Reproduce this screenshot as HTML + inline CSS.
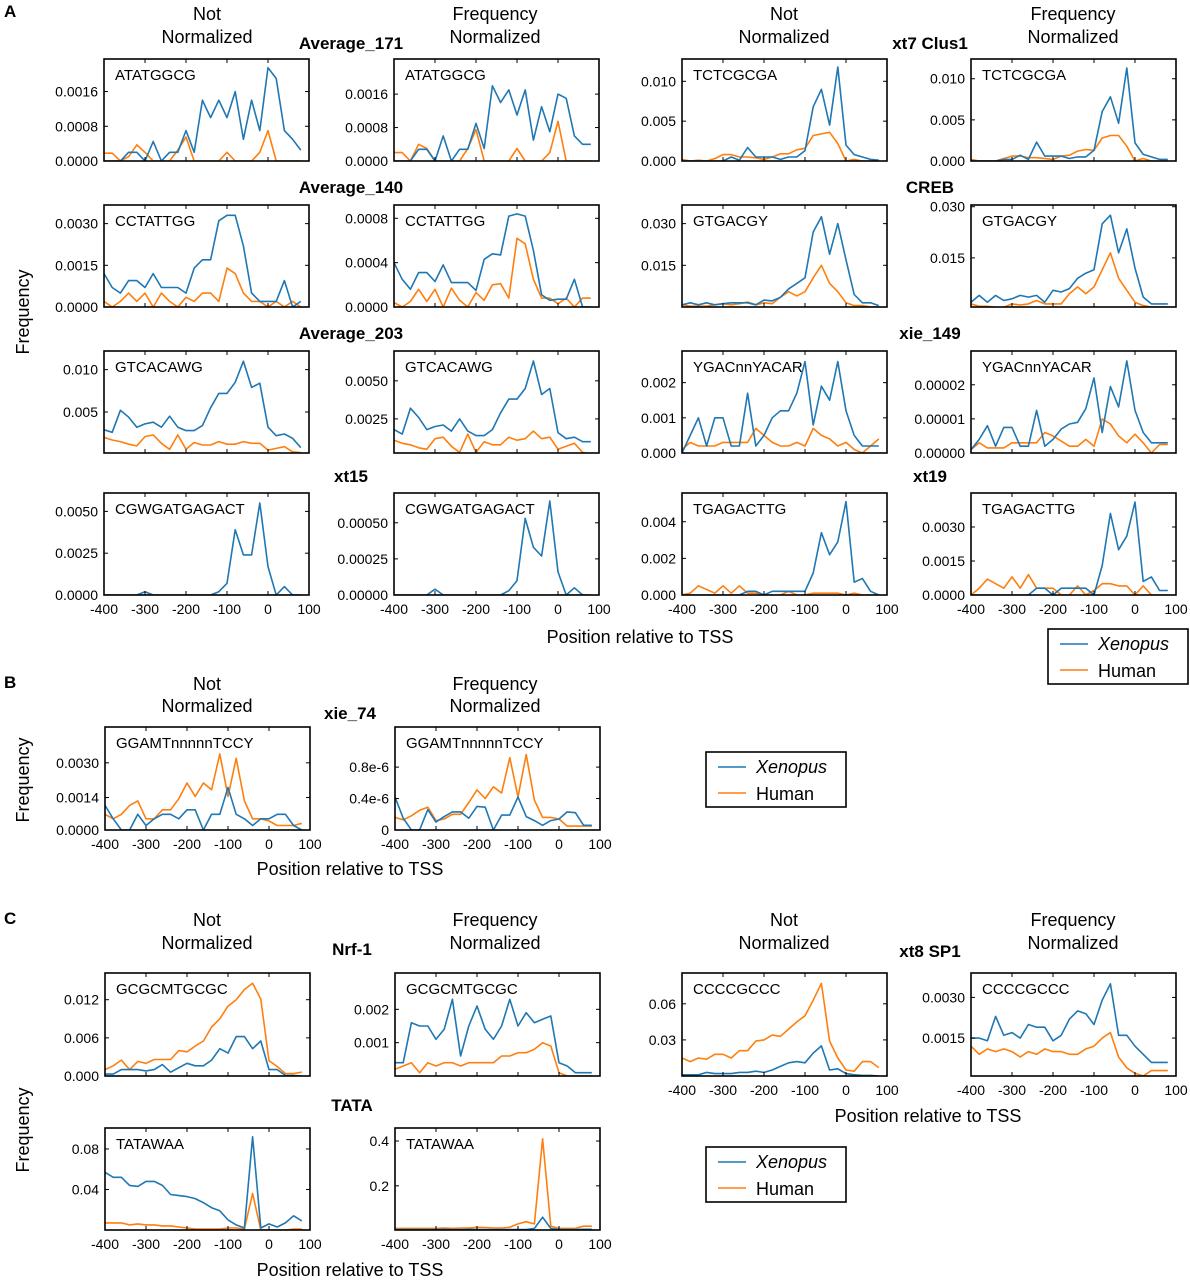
<!DOCTYPE html>
<html><head><meta charset="utf-8"><style>
body{margin:0;background:#fff;}
svg{display:block;font-family:"Liberation Sans",sans-serif;}
</style></head><body>
<svg id="fig" width="1190" height="1280" viewBox="0 0 1190 1280">
<g id="static" font-size="18" fill="#000">
<text x="4" y="17" font-weight="bold" font-size="17">A</text>
<text x="4" y="688" font-weight="bold" font-size="17">B</text>
<text x="4" y="924" font-weight="bold" font-size="17">C</text>
</g>
</svg>
<script>
const positions = [-400,-380,-360,-340,-320,-300,-280,-260,-240,-220,-200,-180,-160,-140,-120,-100,-80,-60,-40,-20,0,20,40,60,80];
const xTicks = [-400,-300,-200,-100,0,100];
const xTickLabels = ["-400","-300","-200","-100","0","100"];

const a171nnBlue = [0,0,0,0.0002,0.0002,0,0.00045,0,0.0002,0.0002,0.0007,0.0002,0.0014,0.001,0.0014,0.001,0.0016,0.0005,0.0014,0.0007,0.00215,0.0019,0.0007,0.0005,0.00025];
const a171nnHuman = [0.00018,0.00018,0,0.0001,0.00037,0.0002,0,0,0,0.00025,0.00055,0,0,0,0,0.0002,0,0,0,0.0002,0.0007,0,0,0,0];
const a171fnBlue = [0,0,0,0.00028,0.00028,0,0.0006,0,0.00028,0.00028,0.0009,0.0003,0.0018,0.0014,0.0017,0.0011,0.0017,0.0005,0.0013,0.0007,0.0016,0.0015,0.0006,0.0004,0.0004];
const a171fnHuman = [0.0002,0.0002,0,0.0004,0.0003,0,0,0,0,0.0003,0.00075,0,0,0,0,0.0003,0,0,0,0.0002,0.00095,0,0,0,0];
const clusnnBlue = [0,0,0,0,0,0,0.0005,0.0001,0.0017,0.0005,0.0005,0.0005,0.0002,0.0005,0.0005,0.0013,0.0068,0.009,0.0045,0.0118,0.002,0.0008,0.0005,0.0002,0.0001];
const clusnnHuman = [0.0002,0,0.0001,0,0.0003,0.0008,0.0008,0.0005,0.0005,0.0004,0.0002,0.0005,0.0009,0.0009,0.0014,0.0016,0.0032,0.0034,0.0036,0.0022,0,0.0002,0,0,0];
const clusfnBlue = [0,0,0,0,0.0002,0.0002,0.0007,0.0002,0.0023,0.0006,0.0006,0.0006,0.0003,0.0005,0.0005,0.0013,0.006,0.0078,0.0046,0.0113,0.0022,0.0008,0.0005,0.0002,0.0002];
const clusfnHuman = [0.0002,0,0,0,0.0003,0.0006,0.0006,0.0004,0.0004,0.0003,0.0002,0.0006,0.0007,0.0012,0.0014,0.0013,0.0028,0.0031,0.0031,0.0018,0,0.0003,0,0,0];
const a140nnBlue = [0.0012,0.0007,0.0005,0.00095,0.00095,0.0007,0.0012,0.0007,0.0007,0.0007,0.0005,0.0014,0.0017,0.0017,0.0031,0.0033,0.0033,0.0022,0.0005,0.0002,0.0002,0.0002,0.00095,0,0.0002];
const a140nnHuman = [0.0002,0,0.0002,0.0005,0.0002,0.0005,0,0.0005,0.0002,0,0.00035,0.0002,0.0005,0.0005,0.0002,0.0014,0.0012,0.0005,0.0002,0.0002,0,0.0002,0,0.0002,0];
const a140fnBlue = [0.0004,0.00025,0.00016,0.00031,0.00031,0.00023,0.00038,0.00022,0.00022,0.00022,0.00015,0.00043,0.00048,0.00047,0.00082,0.00084,0.00082,0.00051,0.00011,0.00006,0.00007,0.00007,0.00025,0,0];
const a140fnHuman = [0.00004,0,0.00005,0.00016,0.00005,0.00016,0,0.00017,0.00006,0,0.00013,0.00006,0.0002,0.00021,0.00008,0.00062,0.00057,0.00025,0.00008,0.00008,0.00003,0.00008,0,0.00008,0.00008];
const crebnnBlue = [0.0008,0.0015,0.0008,0.0015,0.0008,0.0012,0.0015,0.0015,0.0015,0.0008,0.0025,0.0022,0.0035,0.0065,0.0085,0.0105,0.027,0.0325,0.019,0.03,0.017,0.0045,0.0015,0.0015,0.0005];
const crebnnHuman = [0.0008,0.0003,0.0003,0.0003,0.0008,0.0012,0.0008,0.0012,0.0018,0.0008,0.0015,0.0012,0.0035,0.0055,0.004,0.0055,0.0105,0.015,0.0085,0.0055,0.0015,0.0005,0.0005,0,0];
const crebfnBlue = [0.002,0.004,0.002,0.004,0.0025,0.003,0.004,0.0035,0.004,0.002,0.0055,0.005,0.006,0.009,0.0105,0.0115,0.025,0.0275,0.0165,0.0235,0.012,0.0035,0.0015,0.0015,0.0015];
const crebfnHuman = [0.0015,0.0008,0.0008,0.0005,0.0005,0.0015,0.0012,0.0015,0.0025,0.0015,0.0015,0.0015,0.0045,0.0065,0.0045,0.0065,0.0115,0.0165,0.009,0.0055,0.002,0.001,0.0006,0.0006,0.0006];
const a203nnBlue = [0.0029,0.0026,0.0052,0.0044,0.0032,0.0036,0.0038,0.0032,0.0045,0.0032,0.0028,0.0028,0.0034,0.0055,0.0072,0.0072,0.0085,0.011,0.0079,0.0084,0.0032,0.0022,0.0024,0.0019,0.0008];
const a203nnHuman = [0.002,0.0017,0.0015,0.0012,0.001,0.0021,0.0023,0.0013,0.0006,0.0023,0.0006,0.0014,0.0011,0.0011,0.0015,0.0012,0.0012,0.0015,0.0013,0.0013,0.0005,0.0007,0.0009,0.0003,0.0002];
const a203fnBlue = [0.0018,0.0015,0.0032,0.0026,0.0018,0.002,0.0021,0.0017,0.0025,0.0017,0.0014,0.0014,0.0018,0.0029,0.0038,0.0038,0.0045,0.0063,0.0041,0.0045,0.0016,0.0012,0.0013,0.001,0.001];
const a203fnHuman = [0.0011,0.0009,0.0008,0.0006,0.0005,0.0012,0.0013,0.0007,0.0003,0.0015,0.0003,0.001,0.0008,0.0008,0.0013,0.0011,0.0012,0.0017,0.0012,0.0013,0.0005,0.0007,0.0009,0.0003,0.0002];
const x149nnBlue = [0,0.0005,0.001,0.0002,0.001,0.001,0.0002,0.0002,0.0017,0.0002,0.0005,0.001,0.0012,0.0012,0.0017,0.0026,0.0008,0.0019,0.0015,0.0026,0.0012,0.0005,0.0002,0.0002,0.0002];
const x149nnHuman = [0.0001,0.0003,0.0002,0.0002,0.0002,0.0003,0.0003,0.0003,0.0003,0.0007,0.0005,0.0003,0.0002,0.0002,0.0003,0.0002,0.0007,0.0005,0.0004,0.0002,0.0003,0.0001,0,0.0002,0.0004];
const x149fnBlue = [0.1e-5,0.4e-5,0.8e-5,0.2e-5,0.75e-5,0.75e-5,0.2e-5,0.2e-5,1.25e-5,0.2e-5,0.4e-5,0.7e-5,0.85e-5,0.9e-5,1.3e-5,2.2e-5,0.6e-5,1.95e-5,1.35e-5,2.7e-5,1.25e-5,0.6e-5,0.3e-5,0.3e-5,0.3e-5];
const x149fnHuman = [0.1e-5,0.3e-5,0.15e-5,0.15e-5,0.15e-5,0.3e-5,0.3e-5,0.3e-5,0.3e-5,0.6e-5,0.5e-5,0.35e-5,0.2e-5,0.2e-5,0.4e-5,0.2e-5,1.0e-5,0.85e-5,0.5e-5,0.3e-5,0.55e-5,0.3e-5,0,0.25e-5,0.25e-5];
const xt15nnBlue = [0,0,0,0,0,0.0002,0,0,0,0,0,0,0,0,0.0002,0.0007,0.0039,0.0024,0.0024,0.0055,0.0017,0,0.0005,0,0];
const xt15nnHuman = [0,0,0,0,0,0,0,0,0,0,0,0,0,0,0,0,0,0,0,0,0,0,0,0,0];
const xt15fnBlue = [0,0,0,0,0,0.00004,0,0,0,0,0,0,0,0,0.00003,0.0001,0.00053,0.00033,0.00027,0.00065,0.00016,0,0.00005,0,0];
const xt15fnHuman = [0,0,0,0,0,0,0,0,0,0,0,0,0,0,0,0,0,0,0,0,0,0,0,0,0];
const xt19nnBlue = [0,0,0,0,0,0,0,0,0.0002,0.0002,0,0.0002,0.0002,0.0002,0.0002,0.0002,0.0012,0.0034,0.0022,0.0029,0.0051,0.0007,0.0009,0.0002,0];
const xt19nnHuman = [0,0.0001,0.0005,0.0003,0.0001,0.0005,0.0001,0.0005,0.0001,0.0001,0,0,0,0.0002,0,0,0.0001,0.0001,0.0001,0.0001,0,0.0001,0,0,0];
const xt19fnBlue = [0,0,0,0,0,0,0,0,0.0003,0.0003,0,0.0003,0.0003,0.0003,0.0003,0,0.0013,0.0036,0.002,0.0026,0.0041,0.0006,0.0008,0.0002,0.0002];
const xt19fnHuman = [0,0.0003,0.0007,0.0005,0.0003,0.0008,0.0003,0.0009,0.0003,0.0003,0.0003,0,0,0.0004,0,0.0002,0.0005,0.0005,0.0004,0.0004,0,0.0004,0,0,0];
const x74nnBlue = [0.0011,0.0005,0,0,0.0007,0.0002,0.0005,0.0007,0.0007,0.0005,0.0009,0.0009,0,0.0007,0.0007,0.0019,0.0007,0.0005,0.0002,0.0005,0.0005,0.0007,0.0007,0.0002,0];
const x74nnHuman = [0.0007,0.0005,0.0007,0.0011,0.0013,0.0005,0.0005,0.0009,0.0009,0.0014,0.0021,0.0015,0.0021,0.0018,0.0034,0.0015,0.0032,0.0013,0.0005,0.0005,0.0004,0.0002,0.0002,0.0002,0.0003];
const x74fnBlue = [0.42e-6,0.15e-6,0,0,0.26e-6,0.1e-6,0.17e-6,0.23e-6,0.23e-6,0.15e-6,0.3e-6,0.29e-6,0,0.19e-6,0.19e-6,0.42e-6,0.17e-6,0.12e-6,0.06e-6,0.12e-6,0.14e-6,0.23e-6,0.22e-6,0.06e-6,0.06e-6];
const x74fnHuman = [0.16e-6,0.13e-6,0.18e-6,0.25e-6,0.29e-6,0.12e-6,0.14e-6,0.2e-6,0.2e-6,0.35e-6,0.51e-6,0.4e-6,0.55e-6,0.47e-6,0.92e-6,0.42e-6,0.96e-6,0.38e-6,0.16e-6,0.16e-6,0.14e-6,0.05e-6,0.05e-6,0.05e-6,0.05e-6];
const nrfnnBlue = [0.0003,0.0003,0.001,0.001,0.001,0.0008,0.001,0.0018,0.0006,0.0013,0.002,0.0016,0.0016,0.0025,0.0043,0.0036,0.0062,0.0062,0.0043,0.0055,0.001,0.001,0.0001,0.0001,0];
const nrfnnHuman = [0.001,0.0016,0.0025,0.001,0.0023,0.002,0.0026,0.0026,0.0026,0.004,0.0038,0.0047,0.0055,0.0077,0.009,0.011,0.012,0.0136,0.0146,0.0121,0.0024,0.0015,0.0004,0.0004,0.0006];
const nrffnBlue = [0.0004,0.0004,0.0016,0.0015,0.0015,0.0011,0.0014,0.0023,0.0006,0.0015,0.0021,0.0014,0.0011,0.0015,0.0023,0.0015,0.0019,0.0016,0.0017,0.0018,0.0004,0.0003,0.0001,0.0001,0.0001];
const nrffnHuman = [0.0002,0.0003,0.0004,0.0001,0.0004,0.0003,0.0004,0.0004,0.0003,0.0004,0.0004,0.0004,0.0004,0.0006,0.0006,0.0007,0.0007,0.0008,0.001,0.0009,0.0001,0,0,0,0];
const tatannBlue = [0.057,0.052,0.052,0.044,0.043,0.048,0.048,0.044,0.035,0.034,0.033,0.031,0.027,0.022,0.019,0.01,0.005,0.002,0.092,0.002,0.006,0.003,0.007,0.014,0.009];
const tatannHuman = [0.007,0.007,0.007,0.005,0.006,0.005,0.005,0.004,0.004,0.003,0.002,0.001,0.001,0.001,0.001,0.002,0.002,0.001,0.036,0,0,0,0,0.001,0.001];
const tatafnBlue = [0.005,0.005,0.005,0.005,0.005,0.005,0.006,0.005,0.005,0.006,0.005,0.005,0.005,0.005,0.005,0.005,0.005,0.01,0.06,0.01,0.005,0.005,0.005,0.006,0.006];
const tatafnHuman = [0.01,0.01,0.01,0.01,0.01,0.01,0.012,0.01,0.012,0.012,0.015,0.014,0.012,0.012,0.015,0.03,0.04,0.03,0.41,0.02,0.01,0.01,0.01,0.02,0.02];
const sp1nnBlue = [0.001,0.001,0.001,0.003,0.002,0.002,0.002,0.003,0.003,0.004,0.003,0.005,0.008,0.011,0.012,0.011,0.019,0.025,0.005,0.006,0.002,0.001,0.0005,0.0005,0];
const sp1nnHuman = [0.015,0.012,0.015,0.014,0.018,0.018,0.015,0.021,0.021,0.029,0.030,0.034,0.033,0.039,0.045,0.050,0.063,0.077,0.029,0.015,0.005,0.004,0.012,0.012,0.007];
const sp1fnBlue = [0.0015,0.0015,0.0014,0.0023,0.0016,0.0017,0.0015,0.002,0.0019,0.0019,0.0014,0.0016,0.0022,0.0025,0.0024,0.002,0.0029,0.0035,0.0016,0.0016,0.0012,0.0009,0.0006,0.0006,0.0006];
const sp1fnHuman = [0.0012,0.0009,0.0011,0.001,0.0011,0.001,0.0008,0.001,0.0009,0.0011,0.001,0.001,0.0009,0.0009,0.0011,0.0012,0.0015,0.0017,0.0008,0.0004,0.0002,0.0001,0.0003,0.0003,0.0003];

const panels = [
 {n:"average-171-not-normalized",x:104,y:59,h:102,ymin:0,ymax:0.00235,yt:[0,0.0008,0.0016],yl:["0.0000","0.0008","0.0016"],m:"ATATGGCG",b:a171nnBlue,o:a171nnHuman,xl:false},
 {n:"average-171-normalized",x:394,y:59,h:102,ymin:0,ymax:0.00244,yt:[0,0.0008,0.0016],yl:["0.0000","0.0008","0.0016"],m:"ATATGGCG",b:a171fnBlue,o:a171fnHuman,xl:false},
 {n:"xt7-clus1-not-normalized",x:682,y:59,h:102,ymin:0,ymax:0.0128,yt:[0,0.005,0.010],yl:["0.000","0.005","0.010"],m:"TCTCGCGA",b:clusnnBlue,o:clusnnHuman,xl:false},
 {n:"xt7-clus1-normalized",x:971,y:59,h:102,ymin:0,ymax:0.0124,yt:[0,0.005,0.010],yl:["0.000","0.005","0.010"],m:"TCTCGCGA",b:clusfnBlue,o:clusfnHuman,xl:false},
 {n:"average-140-not-normalized",x:104,y:205,h:102,ymin:0,ymax:0.00367,yt:[0,0.0015,0.003],yl:["0.0000","0.0015","0.0030"],m:"CCTATTGG",b:a140nnBlue,o:a140nnHuman,xl:false},
 {n:"average-140-normalized",x:394,y:205,h:102,ymin:0,ymax:0.00092,yt:[0,0.0004,0.0008],yl:["0.0000","0.0004","0.0008"],m:"CCTATTGG",b:a140fnBlue,o:a140fnHuman,xl:false},
 {n:"creb-not-normalized",x:682,y:205,h:102,ymin:0,ymax:0.0367,yt:[0.015,0.030],yl:["0.015","0.030"],m:"GTGACGY",b:crebnnBlue,o:crebnnHuman,xl:false},
 {n:"creb-normalized",x:971,y:205,h:102,ymin:0.0006,ymax:0.0305,yt:[0.015,0.030],yl:["0.015","0.030"],m:"GTGACGY",b:crebfnBlue,o:crebfnHuman,xl:false},
 {n:"average-203-not-normalized",x:104,y:351,h:102,ymin:0.00016,ymax:0.0122,yt:[0.005,0.010],yl:["0.005","0.010"],m:"GTCACAWG",b:a203nnBlue,o:a203nnHuman,xl:false},
 {n:"average-203-normalized",x:394,y:351,h:102,ymin:0.00026,ymax:0.00696,yt:[0.0025,0.005],yl:["0.0025","0.0050"],m:"GTCACAWG",b:a203fnBlue,o:a203fnHuman,xl:false},
 {n:"xie-149-not-normalized",x:682,y:351,h:102,ymin:0,ymax:0.0029,yt:[0,0.001,0.002],yl:["0.000","0.001","0.002"],m:"YGACnnYACAR",b:x149nnBlue,o:x149nnHuman,xl:false},
 {n:"xie-149-normalized",x:971,y:351,h:102,ymin:0,ymax:2.99e-5,yt:[0,1e-5,2e-5],yl:["0.00000","0.00001","0.00002"],m:"YGACnnYACAR",b:x149fnBlue,o:x149fnHuman,xl:false},
 {n:"xt15-not-normalized",x:104,y:493,h:102,ymin:0,ymax:0.0061,yt:[0,0.0025,0.005],yl:["0.0000","0.0025","0.0050"],m:"CGWGATGAGACT",b:xt15nnBlue,o:xt15nnHuman,xl:true},
 {n:"xt15-normalized",x:394,y:493,h:102,ymin:0,ymax:0.000706,yt:[0,0.00025,0.0005],yl:["0.00000","0.00025","0.00050"],m:"CGWGATGAGACT",b:xt15fnBlue,o:xt15fnHuman,xl:true},
 {n:"xt19-not-normalized",x:682,y:493,h:102,ymin:0,ymax:0.00557,yt:[0,0.002,0.004],yl:["0.000","0.002","0.004"],m:"TGAGACTTG",b:xt19nnBlue,o:xt19nnHuman,xl:true},
 {n:"xt19-normalized",x:971,y:493,h:102,ymin:0,ymax:0.0045,yt:[0,0.0015,0.003],yl:["0.0000","0.0015","0.0030"],m:"TGAGACTTG",b:xt19fnBlue,o:xt19fnHuman,xl:true},
 {n:"xie-74-not-normalized",x:105,y:727,h:103,ymin:0,ymax:0.0046,yt:[0,0.00145,0.003],yl:["0.0000","0.0014","0.0030"],m:"GGAMTnnnnnTCCY",b:x74nnBlue,o:x74nnHuman,xl:true},
 {n:"xie-74-normalized",x:395,y:727,h:103,ymin:0,ymax:1.31e-6,yt:[0,0.4e-6,0.8e-6],yl:["0","0.4e-6","0.8e-6"],m:"GGAMTnnnnnTCCY",b:x74fnBlue,o:x74fnHuman,xl:true},
 {n:"nrf1-not-normalized",x:105,y:973,h:103,ymin:0,ymax:0.0162,yt:[0,0.006,0.012],yl:["0.000","0.006","0.012"],m:"GCGCMTGCGC",b:nrfnnBlue,o:nrfnnHuman,xl:false},
 {n:"nrf1-normalized",x:395,y:973,h:103,ymin:0,ymax:0.00309,yt:[0.001,0.002],yl:["0.001","0.002"],m:"GCGCMTGCGC",b:nrffnBlue,o:nrffnHuman,xl:false},
 {n:"tata-not-normalized",x:105,y:1128,h:102,ymin:0,ymax:0.1007,yt:[0.04,0.08],yl:["0.04","0.08"],m:"TATAWAA",b:tatannBlue,o:tatannHuman,xl:true},
 {n:"tata-normalized",x:395,y:1128,h:102,ymin:0.003,ymax:0.458,yt:[0.2,0.4],yl:["0.2","0.4"],m:"TATAWAA",b:tatafnBlue,o:tatafnHuman,xl:true},
 {n:"xt8-sp1-not-normalized",x:682,y:973,h:103,ymin:0,ymax:0.0856,yt:[0.03,0.06],yl:["0.03","0.06"],m:"CCCCGCCC",b:sp1nnBlue,o:sp1nnHuman,xl:true},
 {n:"xt8-sp1-normalized",x:971,y:973,h:103,ymin:0.0001,ymax:0.0039,yt:[0.0015,0.003],yl:["0.0015","0.0030"],m:"CCCCGCCC",b:sp1fnBlue,o:sp1fnHuman,xl:true}
];

const NS="http://www.w3.org/2000/svg";
const svg=document.getElementById('fig');
function mk(tag,attrs,parent){const e=document.createElementNS(NS,tag);for(const k in attrs)e.setAttribute(k,attrs[k]);(parent||svg).appendChild(e);return e;}
function txt(s,x,y,size,anchor,parent,weight,style){const t=mk('text',{x:x,y:y,'font-size':size,'text-anchor':anchor||'start'},parent);if(weight)t.setAttribute('font-weight',weight);if(style)t.setAttribute('font-style',style);t.textContent=s;return t;}

const W=205;
panels.forEach(p=>{
  const g=mk('g',{});
  
  
  const xs=v=>p.x+(v+400)/500*W;
  const ys=v=>p.y+p.h-(v-p.ymin)/(p.ymax-p.ymin)*p.h;
  const cid='c'+p.n;
  const cp=mk('clipPath',{id:cid},g);mk('rect',{x:p.x,y:p.y,width:W,height:p.h},cp);
  [[p.o,'#ff7f0e','human'],[p.b,'#1f77b4','xenopus']].forEach(([arr,col,nm])=>{
    const pts=arr.map((v,i)=>xs(positions[i]).toFixed(1)+','+ys(v).toFixed(1)).join(' ');
    const l=mk('polyline',{points:pts,fill:'none',stroke:col,'stroke-width':1.6,'stroke-linejoin':'round','clip-path':'url(#'+cid+')'},g);
    
    
  });
  const fr=mk('rect',{x:p.x,y:p.y,width:W,height:p.h,fill:'none',stroke:'#000','stroke-width':1.6},g);
  
  
  xTicks.forEach((v,i)=>{
    const X=xs(v);
    mk('line',{x1:X,x2:X,y1:p.y+p.h,y2:p.y+p.h-4,stroke:'#000','stroke-width':1},g);
    mk('line',{x1:X,x2:X,y1:p.y,y2:p.y+4,stroke:'#000','stroke-width':1},g);
    if(p.xl){const t=txt(xTickLabels[i],X,p.y+p.h+19,14,'middle',g);
      
      }
  });
  p.yt.forEach((v,i)=>{
    const Y=ys(v);
    mk('line',{x1:p.x,x2:p.x+4,y1:Y,y2:Y,stroke:'#000','stroke-width':1},g);
    mk('line',{x1:p.x+W,x2:p.x+W-4,y1:Y,y2:Y,stroke:'#000','stroke-width':1},g);
    const t=txt(p.yl[i],p.x-6,Y+5,14,'end',g);
    
    
  });
  const mt=txt(p.m,p.x+11,p.y+21,15,'start',g);
  
  
});

const headerCols=[[207,'Not','Normalized'],[495,'Frequency','Normalized'],[784,'Not','Normalized'],[1073,'Frequency','Normalized']];
[[20,43,4],[690,712,2],[926,949,4]].forEach(([y1,y2,n])=>{
  headerCols.slice(0,n).forEach(([cx,a,b])=>{
    const t1=txt(a,cx,y1,18,'middle');
    
    
    const t2=txt(b,cx,y2,18,'middle');
    
    
  });
});
[["Average_171",351,49],["xt7 Clus1",930,49],["Average_140",351,193],["CREB",930,193],["Average_203",351,339],["xie_149",930,339],["xt15",351,482],["xt19",930,482],["xie_74",350,719],["Nrf-1",352,955],["xt8 SP1",930,957],["TATA",352,1111]].forEach(([s,x,y])=>{
  const t=txt(s,x,y,17,'middle',null,'bold');
  
  
});
[[640,643],[350,875]].forEach(([x,y])=>{const t=txt('Position relative to TSS',x,y,18,'middle');
  
  });
[[350,1276],[928,1122]].forEach(([x,y])=>{const t=txt('Position relative to TSS',x,y,18,'middle');
  
  });
[[29,312],[29,780],[29,1130]].forEach(([x,y])=>{const t=txt('Frequency',x,y,18,'middle');
  t.setAttribute('transform','rotate(-90 '+x+' '+y+')');
  
  });
[[1048,629],[706,752],[706,1147]].forEach(([x,y])=>{
  const g=mk('g',{});
  
  
  mk('rect',{x:x,y:y,width:140,height:55,fill:'#fff',stroke:'#000','stroke-width':1.6},g);
  mk('line',{x1:x+12,x2:x+40,y1:y+15,y2:y+15,stroke:'#1f77b4','stroke-width':1.6},g);
  mk('line',{x1:x+12,x2:x+40,y1:y+41,y2:y+41,stroke:'#ff7f0e','stroke-width':1.6},g);
  const a=txt('Xenopus',x+50,y+21,18,'start',g,null,'italic');
  
  
  const b=txt('Human',x+50,y+48,18,'start',g);
  
  
});
</script>
</body></html>
